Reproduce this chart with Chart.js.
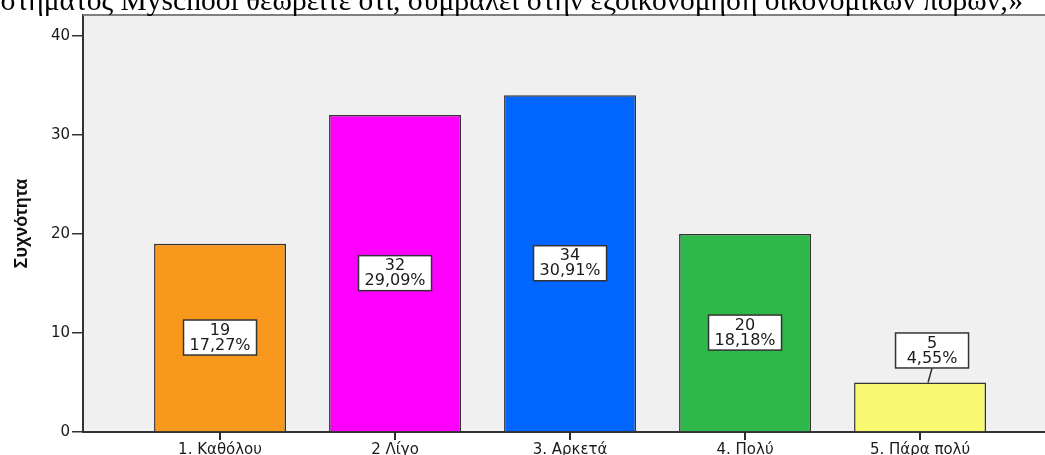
<!DOCTYPE html>
<html>
<head>
<meta charset="utf-8">
<script src="https://cdn.jsdelivr.net/npm/chart.js@4/dist/chart.umd.min.js"></script>
<style>
html,body{margin:0;padding:0;background:#fff;overflow:hidden}
#wrap{position:relative;width:1045px;height:455px}
#ttl{position:absolute;top:-14px;right:22px;font:29.5px 'Liberation Serif','Times New Roman',serif;color:#000;white-space:nowrap;line-height:29px;z-index:2}
</style>
</head>
<body>
<div id="wrap">
  <div id="ttl">στήματος Myschool θεωρείτε ότι, συμβάλει στην εξοικονόμηση οικονομικών πόρων;»</div>
  <canvas id="c"></canvas>
</div>
<script>
'use strict';

/* ═══════════ DATA ═══════════ */
var cats=['1. Καθόλου','2 Λίγο','3. Αρκετά','4. Πολύ','5. Πάρα πολύ'];
var counts=[19,32,34,20,5];
var pcts=['17,27%','29,09%','30,91%','18,18%','4,55%'];
var yTicks=[0,10,20,30,40];
var cols=['#f8981d','#ff00ff','#0066ff','#2fb84a','#f9f871'];

/* ═══════════ PLUGINS ═══════════ */
var plotBg={id:'plotBg',
  beforeDraw:function(ch){var a=ch.chartArea,c=ch.ctx;c.save();c.fillStyle='#f0f0f0';
    c.fillRect(a.left,a.top,a.right-a.left,a.bottom-a.top);c.restore()},
  afterDraw:function(ch){var a=ch.chartArea,c=ch.ctx,sx=ch.scales.x;c.save();c.strokeStyle='#808080';c.lineWidth=2;
    c.beginPath();c.moveTo(a.left,a.top);c.lineTo(a.right,a.top);c.stroke();
    /* x tick marks */
    c.strokeStyle='#2a2a2a';c.lineWidth=2;c.beginPath();
    sx.ticks.forEach(function(t){var px=Math.round(sx.getPixelForValue(t.value));c.moveTo(px,a.bottom);c.lineTo(px,a.bottom+8)});
    c.stroke();c.restore()}};

var boxLbl={id:'boxLbl',
  afterDatasetsDraw:function(ch){var c=ch.ctx,meta=ch.getDatasetMeta(0),w=73,h=35;
    c.save();c.font='16px "DejaVu Sans",Arial,sans-serif';c.textAlign='center';c.textBaseline='middle';
    meta.data.forEach(function(b,i){
      var cx=b.x,cy=(b.y+b.base)/2,lead=false;
      if(b.base-b.y<h+20){cx=b.x+12;cy=b.y-32;lead=true}
      if(lead){c.strokeStyle='#333';c.lineWidth=1.5;c.beginPath();c.moveTo(cx,cy+h/2);c.lineTo(b.x+8,b.y);c.stroke()}
      c.fillStyle='#fff';c.fillRect(cx-w/2,cy-h/2,w,h);
      c.strokeStyle='#333';c.lineWidth=1.5;c.strokeRect(cx-w/2,cy-h/2,w,h);
      c.fillStyle='#1a1a1a';
      c.fillText(String(counts[i]),cx,cy-7);
      c.fillText(pcts[i],cx,cy+8)});
    c.restore()}};

/* ═══════════ CHART ═══════════ */
new Chart(document.getElementById('c'),{type:'bar',
  data:{datasets:[{data:counts.map(function(v,i){return{x:i+1,y:v}}),backgroundColor:cols,
    borderColor:'#333',borderWidth:1.5,barPercentage:0.754,categoryPercentage:1}]},
  options:{responsive:true,maintainAspectRatio:false,animation:false,
    layout:{padding:{top:15,right:0,left:0,bottom:0}},
    plugins:{legend:{display:false},tooltip:{enabled:false}},
    scales:{
      x:{type:'linear',min:0.217,max:5.714,offset:false,
        afterBuildTicks:function(s){s.ticks=cats.map(function(_,i){return{value:i+1}})},
        afterFit:function(s){s.height=23},
        grid:{offset:false,drawOnChartArea:false,tickLength:8,color:'#333',lineWidth:2},
        border:{display:true,color:'#333',width:2},
        ticks:{color:'#1a1a1a',padding:1,maxRotation:0,autoSkip:false,font:{family:'DejaVu Sans',size:15},
          callback:function(v){return cats[v-1]||''}}},
      y:{min:0,max:42.1,
        afterBuildTicks:function(s){s.ticks=yTicks.map(function(v){return{value:v}})},
        afterFit:function(s){s.width=83},
        grid:{drawOnChartArea:false,tickLength:11,color:'#333',lineWidth:1.5},
        border:{display:true,color:'#333',width:2},
        ticks:{color:'#1a1a1a',padding:2,font:{family:'DejaVu Sans',size:15}},
        title:{display:true,text:'Συχνότητα',color:'#111',padding:{top:11,bottom:0},
          font:{family:'Liberation Sans',size:18,weight:'bold'}}}}},
  plugins:[plotBg,boxLbl]});
</script>
</body>
</html>
